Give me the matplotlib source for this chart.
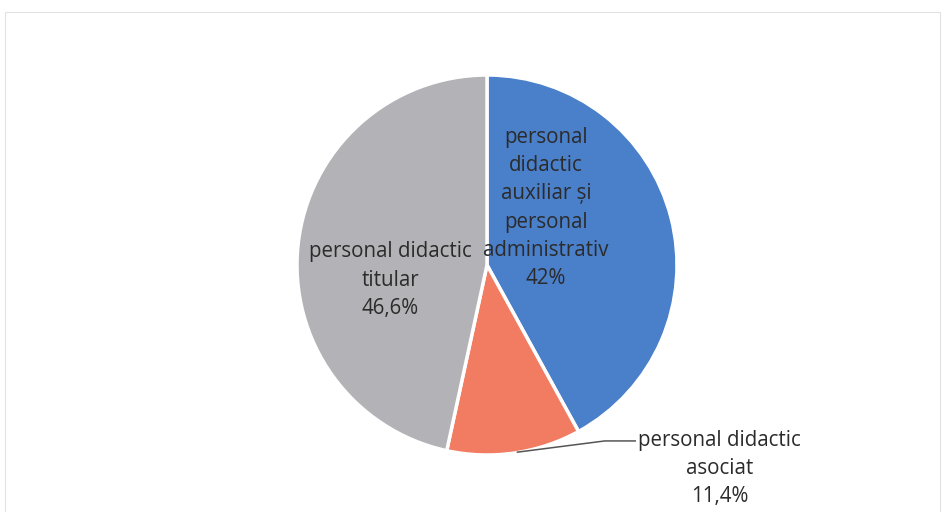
import matplotlib
matplotlib.use('agg')
import matplotlib.pyplot as plt
from matplotlib.patches import Rectangle

# personnel structure (%), clockwise from 12 o'clock
categories = ["personal\ndidactic\nauxiliar și\npersonal\nadministrativ",
              "personal didactic\nasociat",
              "personal didactic\ntitular"]
values = [42.0, 11.4, 46.6]
colors = ["#4a7fca", "#f27c62", "#b3b3b7"]


def fmt_pct(v):
    # romanian style decimal comma, drop trailing ,0
    s = ("%.1f" % v).replace(".", ",")
    if s.endswith(",0"):
        s = s[:-2]
    return s + "%"


plt.rcParams['font.family'] = ['Open Sans', 'DejaVu Sans']

W, H = 951, 512
cx, cy, r = 487, 265, 190
fig = plt.figure(figsize=(W / 100, H / 100), dpi=100)
ax = fig.add_axes([0, 0, 1, 1])

wedges, _ = ax.pie(values, colors=colors, startangle=90, counterclock=False,
                   radius=1, center=(0, 0),
                   wedgeprops=dict(edgecolor="white", linewidth=2.5))

ax.set_xlim(-cx / r, (W - cx) / r)
ax.set_ylim(-(H - cy) / r, cy / r)
ax.set_aspect('auto')
ax.axis('off')

txt_kw = dict(ha="center", va="center", fontsize=14.8, color="#2b2b2b",
              linespacing=1.45)

# label positions (data units, pie radius = 1)
label_pos = [(0.31, 0.30), (1.225, -1.07), (-0.51, -0.08)]
for cat, val, (x, y) in zip(categories, values, label_pos):
    ax.text(x, y, cat + "\n" + fmt_pct(val), **txt_kw)

# leader line for the small slice
ax.plot([0.16, 0.62, 0.78], [-0.985, -0.926, -0.926], color="#555555",
        linewidth=1.1)

# faint frame of the scanned chart area
fig.patches.append(Rectangle((5 / W, -0.1), 935 / W, 1.1 - 12 / H,
                             transform=fig.transFigure, fill=False,
                             edgecolor="#e2e2e2", linewidth=0.8))

fig.savefig("out.png", dpi=100)
